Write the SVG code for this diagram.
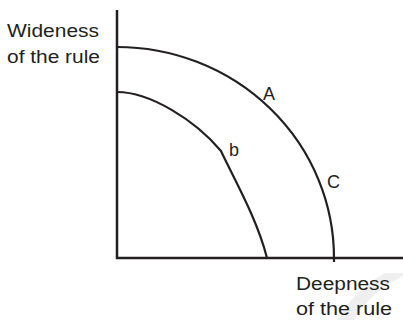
<svg xmlns="http://www.w3.org/2000/svg" width="403" height="320" viewBox="0 0 403 320">
<style>
.t{font-family:"Liberation Sans",Arial,sans-serif;font-size:18px;fill:#231f20}
.ax{stroke:#231f20;stroke-width:2.5;fill:none}
.cv{stroke:#231f20;stroke-width:2.2;fill:none}
</style>
<rect width="403" height="320" fill="#ffffff"/>
<path d="M385,273 L403,273 L403,276 Q370,292 354,320 L337,320 Q355,290 385,273 Z" fill="#efefef"/>
<g id="axes">
<path class="ax" d="M117,10 L117,258 L403,258"/>
</g>
<g id="connectors">
<path id="curveA" class="cv" d="M117,47 A217,211 0 0 1 334,258 L334,262"/>
<path id="curveB" class="cv" d="M117,92 C150,92 195,120 221,151 C232,175 257,218 267,258"/>
</g>
<g id="label-y">
<text class="t" x="7" y="37" textLength="92" lengthAdjust="spacingAndGlyphs">Wideness</text>
<text class="t" x="7" y="63" textLength="93" lengthAdjust="spacingAndGlyphs">of the rule</text>
</g>
<g id="label-x">
<text class="t" x="296" y="290" textLength="94" lengthAdjust="spacingAndGlyphs">Deepness</text>
<text class="t" x="296" y="315" textLength="96" lengthAdjust="spacingAndGlyphs">of the rule</text>
</g>
<g id="label-A"><text class="t" x="263" y="100">A</text></g>
<g id="label-b"><text class="t" x="229" y="156">b</text></g>
<g id="label-C"><text class="t" x="327" y="188">C</text></g>
</svg>
